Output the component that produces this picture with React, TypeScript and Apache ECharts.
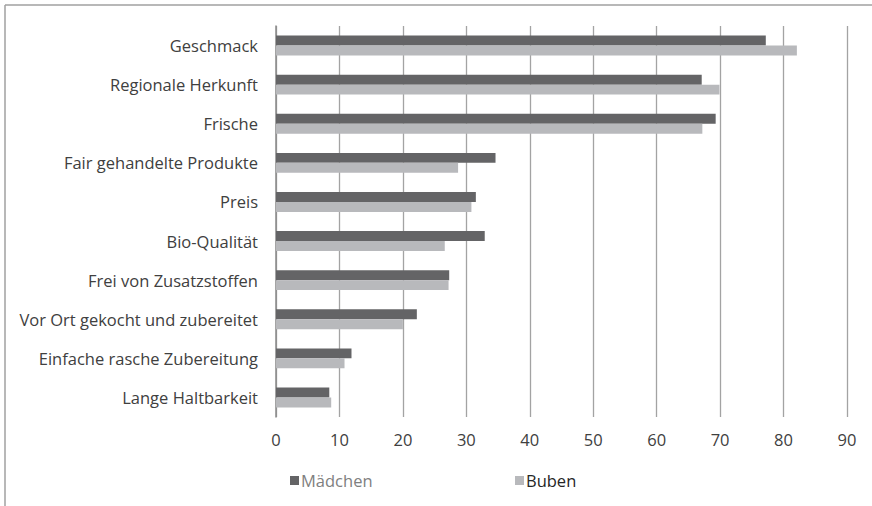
import React, { useEffect, useRef } from "react";
import * as echarts from "echarts";

const categories = [
  "Geschmack",
  "Regionale Herkunft",
  "Frische",
  "Fair gehandelte Produkte",
  "Preis",
  "Bio-Qualität",
  "Frei von Zusatzstoffen",
  "Vor Ort gekocht und zubereitet",
  "Einfache rasche Zubereitung",
  "Lange Haltbarkeit",
];
const maedchen = [77.2, 67.1, 69.3, 34.6, 31.5, 32.9, 27.3, 22.2, 11.9, 8.4];
const buben = [82.1, 69.9, 67.2, 28.7, 30.8, 26.6, 27.2, 20.0, 10.8, 8.7];
const seriesNames = ["Mädchen", "Buben"];

const FONT = "'Open Sans', 'Noto Sans', sans-serif";
const FS = 16.5;

export default function App() {
  const ref = useRef<HTMLDivElement>(null);
  useEffect(() => {
    if (!ref.current) return;
    const chart = echarts.init(ref.current, undefined, { renderer: "svg" });
    chart.setOption({
      animation: false,
      backgroundColor: "#ffffff",
      grid: { left: 276, top: 26, width: 571, height: 391, containLabel: false },
      xAxis: {
        type: "value",
        min: 0,
        max: 90,
        interval: 10,
        axisLine: { show: false },
        axisTick: { show: false },
        splitLine: { show: true, lineStyle: { color: "#a3a3a3", width: 1.3 } },
        axisLabel: { color: "#404040", fontSize: FS, fontFamily: FONT, margin: 14 },
      },
      yAxis: {
        type: "category",
        data: categories,
        inverse: true,
        axisLine: { show: true, lineStyle: { color: "#8a8a8a", width: 1.5 } },
        axisTick: { show: false },
        axisLabel: { color: "#404040", fontSize: FS, fontFamily: FONT, margin: 18 },
      },
      legend: [
        {
          left: 285,
          top: 467,
          icon: "rect",
          itemWidth: 9,
          itemHeight: 9,
          data: [{ name: seriesNames[0], textStyle: { color: "#808080" } }],
          textStyle: { fontSize: FS, fontFamily: FONT, padding: [0, 0, 0, -3] },
        },
        {
          left: 510,
          top: 467,
          icon: "rect",
          itemWidth: 9,
          itemHeight: 9,
          data: [{ name: seriesNames[1], textStyle: { color: "#262626" } }],
          textStyle: { fontSize: FS, fontFamily: FONT, padding: [0, 0, 0, -3] },
        },
      ],
      series: [
        {
          name: seriesNames[0],
          type: "bar",
          data: maedchen,
          barGap: "0%",
          barCategoryGap: "49%",
          itemStyle: { color: "#646466" },
        },
        {
          name: seriesNames[1],
          type: "bar",
          data: buben,
          barGap: "0%",
          barCategoryGap: "49%",
          itemStyle: { color: "#b8b9bc" },
        },
      ],
      graphic: [
        { type: "line", shape: { x1: 5, y1: 5, x2: 872, y2: 5 }, style: { stroke: "#a0a0a0", lineWidth: 1.5 } },
        { type: "line", shape: { x1: 5, y1: 5, x2: 5, y2: 506 }, style: { stroke: "#a0a0a0", lineWidth: 1.5 } },
      ],
    });
    return () => chart.dispose();
  }, []);
  return (
    <div
      ref={ref}
      style={{ position: "fixed", left: 0, top: 0, width: 872, height: 506 }}
    />
  );
}
